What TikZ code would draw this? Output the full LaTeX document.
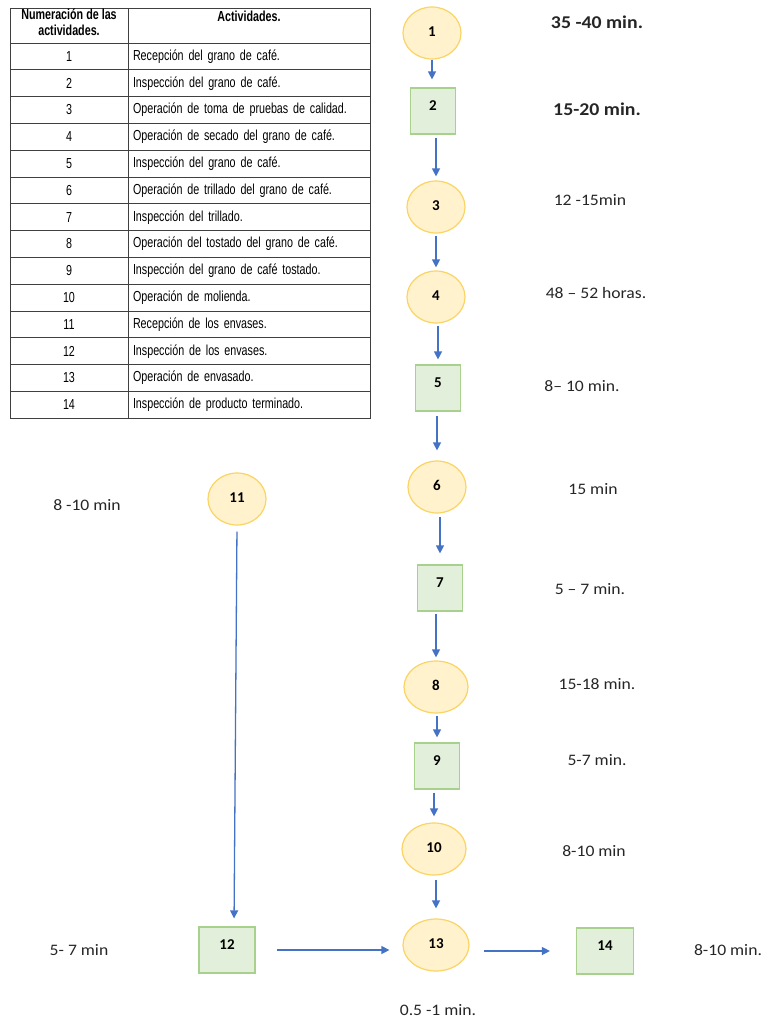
\documentclass[tikz,border=0pt]{standalone}
\usepackage{fontspec}
\setmainfont{Carlito}
\newfontfamily\lblfont[FakeStretch=1.1]{Carlito}
\newfontfamily\tablefont[FakeStretch=0.74]{Liberation Sans}
\usetikzlibrary{arrows.meta, positioning, shapes.geometric}
\definecolor{opfill}{HTML}{FFF2CC}
\definecolor{opline}{HTML}{FAD464}
\definecolor{insfill}{HTML}{E2EFDA}
\definecolor{insline}{HTML}{A9D18E}
\definecolor{flowblue}{HTML}{4472C4}
\definecolor{gridline}{HTML}{404040}
\tikzset{
  opnode/.style={ellipse, draw=opline, fill=opfill, line width=1.2pt,
                 minimum width=58pt, minimum height=52pt, inner sep=0pt,
                 text height=10pt, text depth=4pt,
                 font=\fontsize{15}{18}\selectfont\bfseries},
  insnode/.style={rectangle, draw=insline, fill=insfill, line width=1.2pt,
                  minimum width=45pt, minimum height=46pt, inner sep=0pt,
                  text height=10pt, text depth=12pt,
                  font=\fontsize{15}{18}\selectfont\bfseries},
  tlbl/.style={font=\lblfont\fontsize{16}{19}\selectfont, text=black!85},
  tlblbig/.style={font=\lblfont\fontsize{18}{21}\selectfont\bfseries, text=black!85},
  flow/.style={-{Triangle[length=8pt, width=8pt]}, line width=1.3pt, flowblue},
  cell/.style={rectangle, draw=gridline, line width=1pt, inner sep=0pt,
               font=\tablefont\fontsize{14.5}{16}\selectfont},
  hcell/.style={cell, font=\tablefont\fontsize{14.5}{16}\selectfont\bfseries},
}

\begin{document}
\begin{tikzpicture}[x=1pt, y=-1pt]
  \useasboundingbox (0,0) rectangle (764,1020);

  % table of activities
  \node[hcell, minimum width=118pt, minimum height=35pt] (hnum) at (69,25.5) {};
  \node[hcell, minimum width=242pt, minimum height=35pt] (hact) at (249,25.5) {};
  \node[hcell, draw=none, below=1pt of hnum.north, align=center] (hnumtxt)
    {Numeración de las\\actividades.};
  \node[hcell, draw=none, below=3pt of hact.north] (hacttxt) {Actividades.};
  \foreach \txt [count=\i] in {Recepción del grano de café.,
      Inspección del grano de café.,
      Operación de toma de pruebas de calidad.,
      Operación de secado del grano de café.,
      Inspección del grano de café.,
      Operación de trillado del grano de café.,
      Inspección del trillado.,
      Operación del tostado del grano de café.,
      Inspección del grano de café tostado.,
      Operación de molienda.,
      Recepción de los envases.,
      Inspección de los envases.,
      Operación de envasado.,
      Inspección de producto terminado.}{
    \node[cell, minimum width=118pt, minimum height=26.8pt] (num\i)
      at (69,{43+(\i-0.5)*26.8}) {\i};
    \node[cell, minimum width=242pt, minimum height=26.8pt, text width=232pt,
          align=left] (act\i) at (249,{43+(\i-0.5)*26.8}) {\txt};
  }

  % main flow
  \node[opnode] (n1) at (432,33) {1};
  \node[insnode] (n2) at (433,111) {2};
  \node[opnode] (n3) at (436,207) {3};
  \node[opnode] (n4) at (436,297) {4};
  \node[insnode] (n5) at (438,388) {5};
  \node[opnode] (n6) at (437,487) {6};
  \node[insnode] (n7) at (440,588) {7};
  \node[opnode, minimum width=64pt] (n8) at (436,687) {8};
  \node[insnode] (n9) at (437,766) {9};
  \node[opnode, minimum width=64pt] (n10) at (434,849) {10};
  \node[opnode] (n11) at (237,499) {11};
  \node[insnode, minimum width=56pt] (n12) at (227,950) {12};
  \node[opnode, minimum width=66pt] (n13) at (436,945) {13};
  \node[insnode, minimum width=57pt] (n14) at (605,951) {14};

  % times
  \node[tlblbig] (t1) at (597,22) {35 -40 min.};
  \node[tlblbig] (t2) at (597,109) {15-20 min.};
  \node[tlbl] (t3) at (590,200) {12 -15min};
  \node[tlbl] (t4) at (596,293) {48 – 52 horas.};
  \node[tlbl] (t5) at (582,386) {8– 10 min.};
  \node[tlbl] (t6) at (593,489) {15 min};
  \node[tlbl] (t7) at (590,589) {5 – 7 min.};
  \node[tlbl] (t8) at (597,684) {15-18 min.};
  \node[tlbl] (t9) at (597,760) {5-7 min.};
  \node[tlbl] (t10) at (594,851) {8-10 min};
  \node[tlbl] (t11) at (87,505) {8 -10 min};
  \node[tlbl] (t12) at (79,950) {5- 7 min};
  \node[tlbl] (t13) at (438,1010) {0.5 -1 min.};
  \node[tlbl] (t14) at (728,950) {8-10 min.};

  % arrows
  \draw[flow, shorten >=8pt] (n1.south) -- (n1.south |- n2.north);
  \draw[flow, shorten <=3pt, shorten >=4pt] (n3.north |- n2.south) -- (n3.north);
  \draw[flow, shorten <=2pt, shorten >=3pt] (n4.north |- n3.south) -- (n4.north);
  \draw[flow, shorten <=2pt, shorten >=5pt] (n5.north |- n4.south) -- (n5.north);
  \draw[flow, shorten <=4pt, shorten >=10pt] (n6.north |- n5.south) -- (n6.north);
  \draw[flow, shorten <=3pt, shorten >=11pt] (n7.north |- n6.south) -- (n7.north);
  \draw[flow, shorten <=2pt, shorten >=3pt] (n8.north |- n7.south) -- (n8.north);
  \draw[flow, shorten <=2pt, shorten >=5pt] (n9.north |- n8.south) -- (n9.north);
  \draw[flow, shorten <=3pt, shorten >=6pt] (n10.north |- n9.south) -- (n10.north);
  \draw[flow, shorten <=4pt, shorten >=10pt] (n13.north |- n10.south) -- (n13.north);
  \draw[flow, shorten <=6pt, shorten >=8pt] (n11.south) -- ([xshift=7pt]n12.north);
  \draw[flow, shorten <=21pt, shorten >=13pt] (n12.east) -- (n12.east -| n13.west);
  \draw[flow, shorten <=14pt, shorten >=26pt] (n13.east |- n14) -- (n14.west);
\end{tikzpicture}
\end{document}
